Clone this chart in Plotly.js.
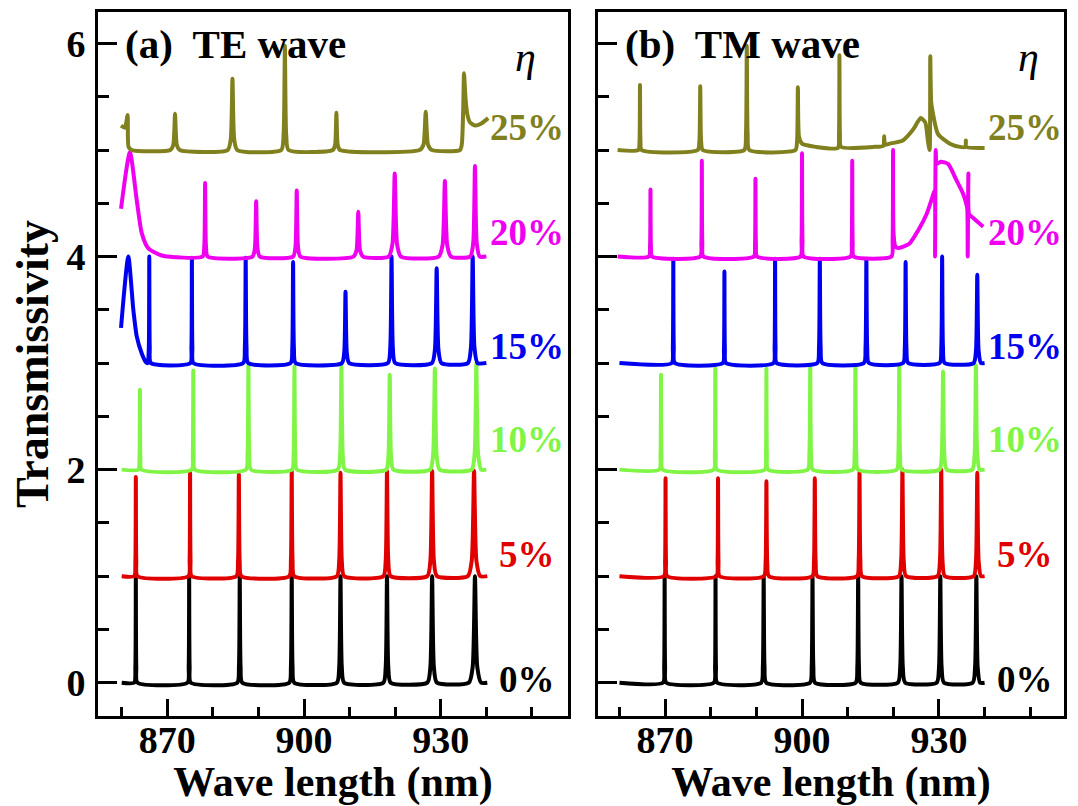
<!DOCTYPE html>
<html>
<head>
<meta charset="utf-8">
<script src="https://cdn.plot.ly/plotly-3.0.1.min.js"></script>
<style>html,body{margin:0;padding:0;background:#fff;}#chart{width:1078px;height:806px;}</style>
</head>
<body>
<div id="chart"></div>
<script>
// ---- data (wavelength in nm, transmissivity 0..1, curves are stacked by offset) ----
const etaLabels = ['0%', '5%', '10%', '15%', '20%', '25%'];
const offsets = [0, 1, 2, 3, 4, 5];
const colors = ['#000000', '#e00000', '#80f545', '#0000f0', '#f000f0', '#80801e'];

// TE wave
const teX0 = [860, 862.75,863.0,863.1,863.2,863.45, 874.45,874.7,874.8,874.9,875.15, 885.35,885.72,885.9,886.08,886.45, 896.75,897.12,897.3,897.48,897.85, 907.2,907.72,908.0,908.28,908.8, 917.4,917.92,918.2,918.48,919.0, 927.05,927.72,928.1,928.48,929.15, 936.15,937.0,937.5,938.0,938.85, 940.2];
const teT0 = [0, 0,.15,1,.15,0, 0,.15,1,.15,0, 0,.15,1,.15,0, 0,.15,1,.15,0, 0,.15,1,.15,0, 0,.15,1,.15,0, 0,.15,1,.15,0, 0,.15,1,.15,0, 0];
const teX5 = [860, 862.75,863.0,863.1,863.2,863.45, 874.65,874.9,875.0,875.1,875.35, 885.15,885.52,885.7,885.88,886.25, 896.75,897.12,897.3,897.48,897.85, 907.2,907.72,908.0,908.28,908.8, 917.4,917.92,918.2,918.48,919.0, 927.05,927.72,928.1,928.48,929.15, 935.95,936.8,937.3,937.8,938.65, 940.2];
const teT5 = [0, 0,.14,.93,.14,0, 0,.15,.97,.15,0, 0,.14,.96,.14,0, 0,.15,.99,.15,0, 0,.15,.97,.15,0, 0,.15,.99,.15,0, 0,.15,.99,.15,0, 0,.15,.99,.15,0, 0];
const teX10 = [860, 863.65,863.9,864.0,864.1,864.35, 875.35,875.6,875.7,875.8,876.05, 887.25,887.62,887.8,887.98,888.35, 897.35,897.72,897.9,898.08,898.45, 907.4,907.92,908.2,908.48,909.0, 918.0,918.52,918.8,919.08,919.6, 927.65,928.32,928.7,929.08,929.75, 936.75,937.42,937.8,938.18,938.85, 940];
const teT10 = [0, 0,.11,.75,.11,0, 0,.14,.93,.14,0, 0,.15,.98,.15,0, 0,.15,.97,.15,0, 0,.15,.98,.15,0, 0,.13,.89,.13,0, 0,.14,.95,.14,0, 0,.15,1.0,.15,0, 0];
const teX15 = [859.85, 861.45, 862.55, 863.3, 864.4, 865.3, 865.7,865.95,866.05,866.15,866.4, 875.05,875.3,875.4,875.5,875.75, 886.65,887.02,887.2,887.38,887.75, 897.05,897.42,897.6,897.78,898.15, 908.3,908.82,909.1,909.38,909.9, 918.4,918.92,919.2,919.48,920.0, 928.05,928.72,929.1,929.48,930.15, 935.95,936.62,937.0,937.38,938.05, 940];
const teT15 = [.33, 1.0, .5, .25, .09, .01, 0,.15,1.0,.15,0, 0,.15,.99,.15,0, 0,.15,.99,.15,0, 0,.14,.95,.14,0, 0,.1,.67,.1,0, 0,.15,1.0,.15,0, 0,.13,.89,.13,0, 0,.15,1.0,.15,0, 0];
const teX20 = [859.85, 861.8, 863.3, 864.4, 865.8, 868.8, 877.75,878.12,878.3,878.48,878.85, 888.7,889.22,889.5,889.78,890.3, 897.6,898.12,898.4,898.68,899.2, 910.85,911.52,911.9,912.28,912.95, 918.55,919.4,919.9,920.4,921.25, 929.55,930.4,930.9,931.4,932.25, 936.45,937.12,937.5,937.88,938.55, 940];
const teT20 = [.45, .98, .53, .22, .08, .01, 0,.1,.69,.1,0, 0,.08,.52,.08,0, 0,.09,.62,.09,0, 0,.06,.42,.06,0, 0,.12,.78,.12,0, 0,.11,.71,.11,0, 0,.13,.85,.13,0, 0];
const teX25 = [859.85, 860.7, 861.3, 861.5, 862.2, 870.65,871.32,871.7,872.08,872.75, 883.25,883.92,884.3,884.68,885.35, 895.0,895.52,895.8,896.08,896.6, 906.3,906.82,907.1,907.38,907.9, 925.35,926.2,926.7,927.2,928.05, 934.2, 934.6, 934.9, 935.1, 935.4, 935.8, 936.4, 937.5, 938.9, 940.4];
const teT25 = [.23, .21, .33, .03, 0, 0,.05,.34,.05,0, 0,.1,.67,.1,0, 0,.15,.98,.15,0, 0,.05,.35,.05,0, 0,.05,.36,.05,0, 0, .05, .35, .72, .5, .34, .26, .23, .25, .3];

// TM wave
const tmX0 = [860, 869.55,869.8,869.9,870.0,870.25, 880.7,880.95,881.05,881.15,881.4, 891.05,891.42,891.6,891.78,892.15, 901.75,902.12,902.3,902.48,902.85, 911.75,912.12,912.3,912.48,912.85, 921.0,921.52,921.8,922.08,922.6, 929.5,930.02,930.3,930.58,931.1, 937.4,937.92,938.2,938.48,939.0, 940];
const tmT0 = [0, 0,.15,1,.15,0, 0,.15,1,.15,0, 0,.15,1,.15,0, 0,.15,1,.15,0, 0,.15,1,.15,0, 0,.15,1,.15,0, 0,.15,1,.15,0, 0,.15,1,.15,0, 0];
const tmX5 = [860, 869.75,870.0,870.1,870.2,870.45, 881.25,881.5,881.6,881.7,881.95, 891.65,892.02,892.2,892.38,892.75, 902.25,902.62,902.8,902.98,903.35, 912.05,912.42,912.6,912.78,913.15, 921.2,921.72,922.0,922.28,922.8, 929.7,930.22,930.5,930.78,931.3, 937.6,938.12,938.4,938.68,939.2, 940];
const tmT5 = [0, 0,.14,.92,.14,0, 0,.14,.92,.14,0, 0,.13,.89,.13,0, 0,.14,.92,.14,0, 0,.15,.98,.15,0, 0,.15,1.0,.15,0, 0,.15,1.0,.15,0, 0,.15,.97,.15,0, 0];
const tmX10 = [860, 868.75,869.0,869.1,869.2,869.45, 880.65,880.9,881.0,881.1,881.35, 891.85,892.1,892.2,892.3,892.55, 901.25,901.62,901.8,901.98,902.35, 911.15,911.52,911.7,911.88,912.25, 920.75,921.12,921.3,921.48,921.85, 930.1,930.62,930.9,931.18,931.7, 937.3,937.82,938.1,938.38,938.9, 940];
const tmT10 = [0, 0,.13,.89,.13,0, 0,.14,.95,.14,0, 0,.14,.95,.14,0, 0,.15,.97,.15,0, 0,.15,.98,.15,0, 0,.15,.98,.15,0, 0,.14,.92,.14,0, 0,.15,.98,.15,0, 0];
const tmX15 = [860, 871.45,871.7,871.8,871.9,872.15, 882.65,882.9,883.0,883.1,883.35, 893.75,894.0,894.1,894.2,894.45, 903.35,903.72,903.9,904.08,904.45, 913.55,913.92,914.1,914.28,914.65, 922.15,922.52,922.7,922.88,923.25, 930.15,930.52,930.7,930.88,931.25, 937.6,938.12,938.4,938.68,939.2, 940];
const tmT15 = [0, 0,.15,.98,.15,0, 0,.13,.86,.13,0, 0,.15,.98,.15,0, 0,.15,.98,.15,0, 0,.15,.98,.15,0, 0,.14,.95,.14,0, 0,.15,1.0,.15,0, 0,.12,.83,.12,0, 0];
const tmX20 = [859.6, 866.45,866.7,866.8,866.9,867.15, 877.7,877.95,878.05,878.15,878.4, 889.45,889.7,889.8,889.9,890.15, 899.65,899.9,900.0,900.1,900.35, 910.65,910.9,911.0,911.1,911.35, 919.6,919.85,919.95,920.05,920.4, 921.0, 923.5, 925.5, 927.3, 928.5, 929.05, 929.15, 929.3, 929.5, 930.4, 932.0, 933.8, 935.2, 935.9, 936.2, 936.3, 936.45, 936.6, 937.3, 939.7];
const tmT20 = [0, 0,.09,.63,.09,0, 0,.13,.9,.13,0, 0,.11,.73,.11,0, 0,.15,.97,.15,0, 0,.13,.9,.13,0, 0,.15,1.0,.22,.1, .08, .12, .25, .4, .55, .62, 0, 1.0, .87, .89, .87, .72, .6, .51, .45, 0, .78, .4, .37, .28];
const tmX25 = [859.6, 864.15,864.4,864.5,864.6,864.85, 877.15,877.52,877.7,877.88,878.25, 887.35,887.72,887.9,888.08,888.45, 898.55,898.92,899.1,899.35,900.0,903.0, 907.85,908.1,908.2,908.3,908.55, 916.0, 917.8, 918.0, 918.2, 919.2, 922.1, 924.3, 926.0, 927.0, 927.6, 927.95, 928.1, 928.3, 928.7, 929.8, 932.4, 934.6, 935.8, 935.9, 936.0, 940.0];
const tmT25 = [0, 0,.09,.61,.09,0, 0,.09,.6,.09,0, 0,.15,.98,.15,0, 0,.09,.59,.12,.06,.03, .02,.15,.89,.15,.03, .03, .04, .13, .05, .06, .09, .19, .3, .26, .08, 0, .88, .45, .34, .15, .06, .03, .03, .09, .03, .02];

const xTicks = [870, 900, 930];
const yTicks = [0, 2, 4, 6];
const panelTitles = ['(a)&nbsp; TE wave', '(b)&nbsp; TM wave'];

const teX = [teX0, teX5, teX10, teX15, teX20, teX25];
const teT = [teT0, teT5, teT10, teT15, teT20, teT25];
const tmX = [tmX0, tmX5, tmX10, tmX15, tmX20, tmX25];
const tmT = [tmT0, tmT5, tmT10, tmT15, tmT20, tmT25];

const FONT = "'Liberation Serif', 'Times New Roman', serif";
const traces = [];
function addPanel(xs, ts, xa, ya) {
  for (let i = 0; i < xs.length; i++) {
    traces.push({
      type: 'scatter', mode: 'lines', x: xs[i], y: ts[i].map(v => v + offsets[i]),
      xaxis: xa, yaxis: ya, line: {color: colors[i], width: 4, shape: 'spline', smoothing: 0.6},
      hoverinfo: 'skip', showlegend: false
    });
  }
}
addPanel(teX, teT, 'x', 'y');
addPanel(tmX, tmT, 'x2', 'y2');

const yRange = [-0.313, 6.296];
function xAxis(domain, range, anchor) {
  return {
    domain: domain, range: range, anchor: anchor,
    tickmode: 'array', tickvals: xTicks, ticktext: xTicks.map(String),
    ticks: 'inside', ticklen: 17, tickwidth: 3, tickcolor: '#000',
    minor: {ticks: 'inside', ticklen: 9, tickwidth: 3, tickcolor: '#000', tick0: 860, dtick: 10, showgrid: false},
    showline: true, linewidth: 3, linecolor: '#000', mirror: true,
    showgrid: false, zeroline: false,
    tickfont: {family: FONT, size: 38, color: '#000', weight: 'bold'},
    ticklabelstandoff: -12,
    title: {text: 'Wave length (nm)', font: {family: FONT, size: 42, color: '#000', weight: 'bold'}, standoff: 0},
    automargin: false
  };
}
function yAxis(anchor, labels) {
  const ax = {
    anchor: anchor, domain: [0, 1], range: yRange,
    tickmode: 'array', tickvals: yTicks, ticktext: yTicks.map(String),
    ticks: 'inside', ticklen: 19, tickwidth: 3, tickcolor: '#000',
    minor: {ticks: 'inside', ticklen: 11, tickwidth: 3, tickcolor: '#000', tick0: 0, dtick: 0.5, showgrid: false},
    showline: true, linewidth: 3, linecolor: '#000', mirror: true,
    showgrid: false, zeroline: false, showticklabels: labels,
    tickfont: {family: FONT, size: 38, color: '#000', weight: 'bold'},
    ticklabelstandoff: 2,
    automargin: false
  };
  if (labels) ax.title = {text: 'Transmissivity', font: {family: FONT, size: 46, color: '#000', weight: 'bold'}, standoff: 4};
  return ax;
}

const annotations = [];
const refs = [['x', 'y'], ['x2', 'y2']];
const labelY = [0.03, 1.2, 2.28, 3.16, 4.23, 5.21];
refs.forEach((r, p) => {
  annotations.push({xref: r[0], yref: r[1], x: p === 0 ? 860.3 : 860.7, y: 6.0, xanchor: 'left', yanchor: 'middle',
    text: panelTitles[p], showarrow: false, font: {family: FONT, size: 41, color: '#000', weight: 'bold'}});
  annotations.push({xref: r[0], yref: r[1], x: p === 0 ? 948.6 : 949.6, y: 5.87, xanchor: 'center', yanchor: 'middle',
    text: 'η', showarrow: false, font: {family: FONT, size: 42, color: '#000', style: 'italic'}});
  for (let i = 0; i < etaLabels.length; i++) {
    annotations.push({xref: r[0], yref: r[1], x: 948.9, y: labelY[i], xanchor: 'center', yanchor: 'middle',
      text: etaLabels[i], showarrow: false, font: {family: FONT, size: 37, color: colors[i], weight: 'bold'}});
  }
});

const layout = {
  width: 1078, height: 806,
  margin: {l: 98, r: 14, t: 12, b: 90, pad: 0},
  paper_bgcolor: '#fff', plot_bgcolor: '#fff',
  xaxis: xAxis([0, 0.4865], [854.8, 957.9], 'y'),
  yaxis: yAxis('x', true),
  xaxis2: xAxis([0.5176, 1], [855.3, 957.4], 'y2'),
  yaxis2: yAxis('x2', false),
  annotations: annotations,
  showlegend: false
};
Plotly.newPlot('chart', traces, layout, {displayModeBar: false, staticPlot: true});
</script>
</body>
</html>
